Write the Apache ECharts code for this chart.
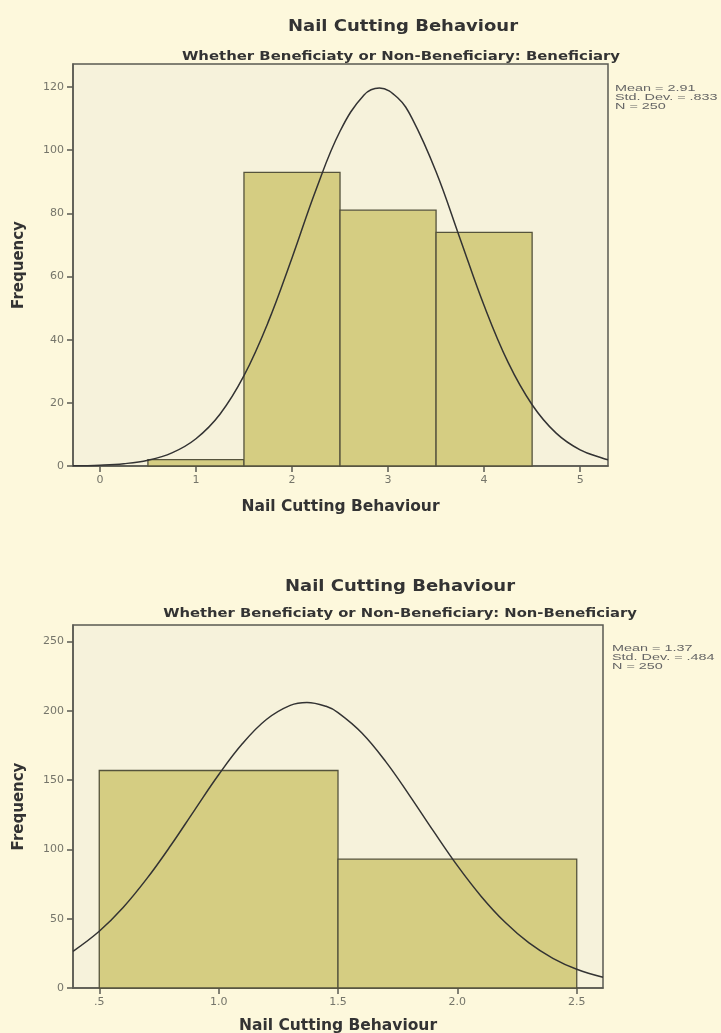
<!DOCTYPE html>
<html>
<head>
<meta charset="utf-8">
<script src="https://cdn.jsdelivr.net/npm/echarts@6/dist/echarts.min.js"></script>
<style>
html,body{margin:0;padding:0;background:#FDF8DC;}
#c{width:721px;height:1033px;}
</style>
</head>
<body>
<div id="c"></div>
<script>
// ---- Data: top panel (Beneficiary) ----
const topBinCenters = [1, 2, 3, 4];
const topCounts = [2, 93, 81, 74];
const topBinWidth = 1;
const topXTicks = [0, 1, 2, 3, 4, 5];
const topYTicks = [0, 20, 40, 60, 80, 100, 120];
const topCurveX = [-0.28, 0, 0.25, 0.5, 0.75, 1, 1.25, 1.5, 1.75, 2, 2.25, 2.5, 2.75, 2.91, 3.1, 3.25, 3.5, 3.75, 4, 4.25, 4.5, 4.75, 5, 5.25, 5.29];
const topCurveY = [0.07, 0.27, 0.73, 1.82, 4.15, 8.64, 16.4, 28.6, 45.4, 65.9, 87.5, 106.0, 117.5, 119.7, 116.6, 110.1, 93.2, 72.0, 50.8, 32.8, 19.4, 10.4, 5.1, 2.3, 2.0];
const topStats = ["Mean = 2.91", "Std. Dev. = .833", "N = 250"];
const topSubtitle = "Whether Beneficiaty or Non-Beneficiary: Beneficiary";

// ---- Data: bottom panel (Non-Beneficiary) ----
const botBinCenters = [1, 2];
const botCounts = [157, 93];
const botBinWidth = 1;
const botXTicks = [0.5, 1.0, 1.5, 2.0, 2.5];
const botXTickLabels = [".5", "1.0", "1.5", "2.0", "2.5"];
const botYTicks = [0, 50, 100, 150, 200, 250];
const botCurveX = [0.39, 0.5, 0.6, 0.7, 0.8, 0.9, 1.0, 1.1, 1.2, 1.3, 1.37, 1.45, 1.5, 1.6, 1.7, 1.8, 1.9, 2.0, 2.1, 2.2, 2.3, 2.4, 2.5, 2.61];
const botCurveY = [26.5, 41.0, 58.1, 79.1, 103.0, 128.6, 153.9, 176.4, 193.8, 204.0, 206.1, 203.3, 198.8, 184.1, 163.4, 138.9, 113.2, 88.3, 66.1, 47.4, 32.5, 21.4, 13.5, 7.7];
const botStats = ["Mean = 1.37", "Std. Dev. = .484", "N = 250"];
const botSubtitle = "Whether Beneficiaty or Non-Beneficiary: Non-Beneficiary";

const mainTitle = "Nail Cutting Behaviour";
const xName = "Nail Cutting Behaviour";
const yName = "Frequency";

const BOLD = "'DejaVu Sans', Verdana, sans-serif";
const FONT = "'DejaVu Sans', Arial, sans-serif";
const labelColor = "#75756a";
const axisColor = "#5a5a52";

function binData(centers, counts, w) {
  return centers.map((c, i) => [c - w / 2, c + w / 2, counts[i]]);
}
function renderBar(params, api) {
  const p0 = api.coord([api.value(0), api.value(2)]);
  const p1 = api.coord([api.value(1), 0]);
  return {
    type: 'rect',
    shape: { x: p0[0], y: p0[1], width: p1[0] - p0[0], height: p1[1] - p0[1] },
    style: { fill: '#D5CD82', stroke: '#55533c', lineWidth: 1.3 }
  };
}
function xAxisCfg(idx, min, max, ticks, fmt, gap) {
  return {
    type: 'value', gridIndex: idx, min: min, max: max,
    name: xName, nameLocation: 'middle', nameGap: gap,
    nameTextStyle: { fontFamily: BOLD, fontWeight: 'bold', fontSize: 15.5, color: '#333' },
    splitLine: { show: false },
    axisLine: { show: true, onZero: false, lineStyle: { color: axisColor, width: 1.5 } },
    axisTick: { show: true, customValues: ticks, length: 6, lineStyle: { color: axisColor, width: 1.5 } },
    axisLabel: { customValues: ticks, formatter: fmt, fontFamily: FONT, fontSize: 11, color: labelColor, margin: 9 }
  };
}
function yAxisCfg(idx, max, ticks) {
  return {
    type: 'value', gridIndex: idx, min: 0, max: max,
    name: yName, nameLocation: 'middle', nameGap: 46, nameRotate: 90,
    nameTextStyle: { fontFamily: BOLD, fontWeight: 'bold', fontSize: 15, color: '#333' },
    splitLine: { show: false },
    axisLine: { show: true, onZero: false, lineStyle: { color: axisColor, width: 1.5 } },
    axisTick: { show: true, customValues: ticks, length: 6, lineStyle: { color: axisColor, width: 1.5 } },
    axisLabel: { customValues: ticks, fontFamily: FONT, fontSize: 11, color: labelColor, margin: 9 }
  };
}
function statsText(lines, x, y) {
  return { type: 'text', x: x, y: y, scaleX: 1.6, z: 10,
    style: { text: lines.join('\n'), font: '9px Arial, "Liberation Sans", sans-serif', fill: '#666', lineHeight: 9 } };
}
function titleText(text, cx, cy, size, sx) {
  return { type: 'text', x: cx, y: cy, scaleX: sx, z: 10,
    style: { text: text, font: 'bold ' + size + 'px ' + BOLD, fill: '#333', align: 'center', verticalAlign: 'middle' } };
}

const chart = echarts.init(document.getElementById('c'), null, { renderer: 'canvas' });
chart.setOption({
  backgroundColor: '#FDF8DC',
  animation: false,
  graphic: [
    titleText(mainTitle, 403, 27, 15, 1.2),
    titleText(topSubtitle, 401, 57, 12, 1.24),
    titleText(mainTitle, 400, 587, 15, 1.2),
    titleText(botSubtitle, 400, 614, 12, 1.23),
    statsText(topStats, 615, 84),
    statsText(botStats, 612, 644)
  ],
  grid: [
    { left: 73, top: 64, width: 535, height: 402, show: true, outerBoundsMode: 'none', backgroundColor: '#F6F2DB', borderColor: axisColor, borderWidth: 1.5 },
    { left: 73, top: 625, width: 530, height: 363, show: true, outerBoundsMode: 'none', backgroundColor: '#F6F2DB', borderColor: axisColor, borderWidth: 1.5 }
  ],
  xAxis: [
    xAxisCfg(0, -0.28, 5.29, topXTicks, v => String(v), 33),
    xAxisCfg(1, 0.39, 2.61, botXTicks, v => { const k = botXTicks.indexOf(v); return k >= 0 ? botXTickLabels[k] : String(v); }, 30)
  ],
  yAxis: [
    yAxisCfg(0, 127.3, topYTicks),
    yAxisCfg(1, 262, botYTicks)
  ],
  series: [
    { type: 'custom', xAxisIndex: 0, yAxisIndex: 0, renderItem: renderBar,
      data: binData(topBinCenters, topCounts, topBinWidth), z: 2 },
    { type: 'line', xAxisIndex: 0, yAxisIndex: 0, smooth: 0.4, showSymbol: false,
      lineStyle: { color: '#333', width: 1.5 }, data: topCurveX.map((x, i) => [x, topCurveY[i]]), z: 3 },
    { type: 'custom', xAxisIndex: 1, yAxisIndex: 1, renderItem: renderBar,
      data: binData(botBinCenters, botCounts, botBinWidth), z: 2 },
    { type: 'line', xAxisIndex: 1, yAxisIndex: 1, smooth: 0.4, showSymbol: false,
      lineStyle: { color: '#333', width: 1.5 }, data: botCurveX.map((x, i) => [x, botCurveY[i]]), z: 3 }
  ]
});
</script>
</body>
</html>
